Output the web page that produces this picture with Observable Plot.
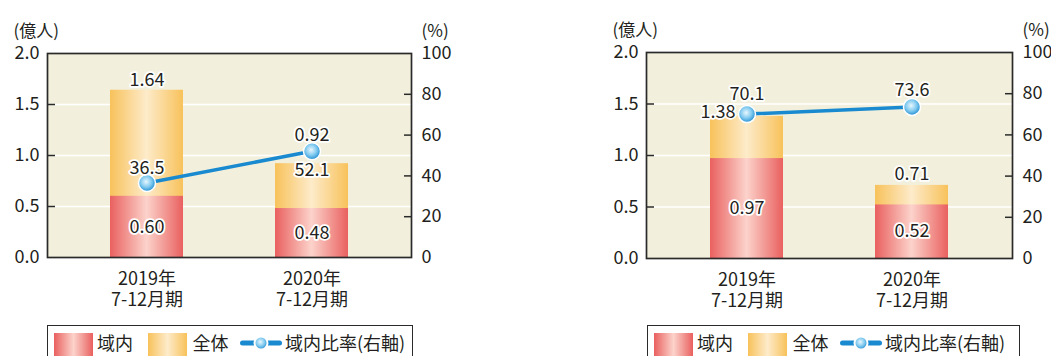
<!DOCTYPE html>
<html><head><meta charset="utf-8">
<script src="https://cdn.jsdelivr.net/npm/d3@7"></script>
<script src="https://cdn.jsdelivr.net/npm/@observablehq/plot@0.6"></script>
<style>
html,body{margin:0;padding:0;background:#fff}
body{width:1051px;height:356px;overflow:hidden;position:relative;font-family:"Noto Sans CJK JP","Noto Sans",sans-serif;color:#231f20}
.chart{position:absolute;top:0}
.legend{position:absolute;top:325px;height:44px;border:1.6px solid #2a2a2a;box-sizing:border-box;background:#fff}
.legend > *{position:absolute}
.sw{top:6.5px;width:39px;height:26px}
.lt{top:6.5px;font-size:18px;line-height:1;white-space:nowrap}
</style></head><body>
<svg width="0" height="0" style="position:absolute"><defs>
<linearGradient id="gRed" x1="0" x2="1" y1="0" y2="0"><stop offset="0" stop-color="#e9605f"/><stop offset="0.5" stop-color="#fcd3cb"/><stop offset="1" stop-color="#e9605f"/></linearGradient>
<linearGradient id="gOrg" x1="0" x2="1" y1="0" y2="0"><stop offset="0" stop-color="#f8c25b"/><stop offset="0.5" stop-color="#fdebca"/><stop offset="1" stop-color="#f8c25b"/></linearGradient>
<radialGradient id="gDot" cx="0.45" cy="0.42" r="0.6"><stop offset="0" stop-color="#e8f7fe"/><stop offset="0.55" stop-color="#7fc9ef"/><stop offset="1" stop-color="#1b8ad0"/></radialGradient>
</defs></svg>
<script>
// ---- data ----
const periods = ["2019年\n7-12月期", "2020年\n7-12月期"];
const leftTotal = [1.64, 0.92];
const leftDomestic = [0.60, 0.48];
const leftShare = [36.5, 52.1];
const rightTotal = [1.38, 0.71];
const rightDomestic = [0.97, 0.52];
const rightShare = [70.1, 73.6];
const yTicks = [0, 0.5, 1.0, 1.5, 2.0];
const pctTicks = [0, 20, 40, 60, 80, 100];
const leftAxisTitle = "(億人)";
const rightAxisTitle = "(%)";
const legendLabels = ["域内", "全体", "域内比率(右軸)"];

const FONT = '"Noto Sans CJK JP","Noto Sans",sans-serif';
const INK = "#231f20";
const BLUE = "#1a8ad0";

function chart(total, dom, share, o) {
  const data = periods.map((p, i) => ({p, i, total: total[i], dom: dom[i], share: share[i]}));
  const toY = v => v / 50; // right axis (%) mapped onto the left scale (0–2 ↔ 0–100)
  const halo = {fill: INK, stroke: "#fff", strokeWidth: 3.5, paintOrder: "stroke", fontSize: 18};
  const marks = [
    Plot.frame({fill: "#f2f0dc"}),
    Plot.gridY(yTicks.slice(1, -1), {stroke: "#fff", strokeOpacity: 1, strokeWidth: 1.6}),
    Plot.barY(data, {x: "p", y: "total", fill: "url(#gOrg)"}),
    Plot.barY(data, {x: "p", y: "dom", fill: "url(#gRed)"}),
    Plot.axisY(yTicks, {anchor: "left", tickSize: 0, tickPadding: 8, tickFormat: d => d.toFixed(1), label: null, fontSize: 18, fill: INK}),
    Plot.axisY(yTicks.slice(1, -1), {anchor: "left", tickSize: -8, fill: "none", label: null, stroke: "#2a2a2a", strokeWidth: 1.5}),
    Plot.axisY(pctTicks.map(toY), {anchor: "right", tickSize: 0, tickPadding: 10, tickFormat: d => String(Math.round(d * 50)), label: null, fontSize: 18, fill: INK}),
    Plot.axisY(pctTicks.slice(1, -1).map(toY), {anchor: "right", tickSize: -8, fill: "none", label: null, stroke: "#2a2a2a", strokeWidth: 1.5}),
    Plot.axisX({tickSize: 0, tickPadding: 12, label: null, fontSize: 18, lineHeight: 1.2, fill: INK}),
    Plot.text(data, {x: "p", y: d => d.dom / 2, text: d => d.dom.toFixed(2), ...halo}),
    Plot.line(data, {x: "p", y: d => toY(d.share), stroke: BLUE, strokeWidth: 3.5}),
    Plot.dot(data, {x: "p", y: d => toY(d.share), r: 8.5, fill: "url(#gDot)", stroke: "#fff", strokeWidth: 1.5}),
    ...data.map((d, i) => Plot.text([d], {x: "p", y: "total", text: d => d.total.toFixed(2), dx: o.totalDx[i], dy: o.totalDy[i], ...halo})),
    ...data.map((d, i) => Plot.text([d], {x: "p", y: d => toY(d.share), text: d => d.share.toFixed(1), dy: o.shareDy[i], ...halo})),
    Plot.frame({stroke: "#2a2a2a", strokeWidth: 1.7}),
    Plot.text([leftAxisTitle], {frameAnchor: "top-left", dx: -34, dy: -29, textAnchor: "start", fontSize: 17, fill: INK}),
    Plot.text([rightAxisTitle], {frameAnchor: "top-right", dx: 10, dy: -29, textAnchor: "start", fontSize: 17, fill: INK})
  ];
  const svg = Plot.plot({
    width: 452, height: 356,
    marginLeft: 47, marginRight: o.marginRight, marginTop: o.marginTop, marginBottom: o.marginBottom,
    style: {fontFamily: FONT, fontSize: "18px", color: INK, background: "transparent", overflow: "visible"},
    x: {domain: periods, paddingInner: 0.555, paddingOuter: 0.38},
    y: {domain: [0, 2]},
    marks
  });
  svg.classList.add("chart");
  svg.style.left = o.left + "px";
  svg.style.position = "absolute";
  document.body.appendChild(svg);
}

function legend(left, width) {
  const div = document.createElement("div");
  div.className = "legend";
  div.style.left = left + "px";
  div.style.width = width + "px";
  div.innerHTML =
    `<div class="sw" style="left:5.5px;background:linear-gradient(90deg,#e9605f,#fcd3cb,#e9605f)"></div>` +
    `<div class="lt" style="left:49px">${legendLabels[0]}</div>` +
    `<div class="sw" style="left:99.5px;background:linear-gradient(90deg,#f8c25b,#fdebca,#f8c25b)"></div>` +
    `<div class="lt" style="left:144.5px">${legendLabels[1]}</div>` +
    `<svg style="left:192px;top:8px" width="42" height="18"><line x1="2.5" x2="39.5" y1="9" y2="9" stroke="${BLUE}" stroke-width="5" stroke-linecap="round"/><circle cx="21" cy="9" r="6.5" fill="url(#gDot)" stroke="#fff" stroke-width="2"/></svg>` +
    `<div class="lt" style="left:237px">${legendLabels[2]}</div>`;
  document.body.appendChild(div);
}

chart(leftTotal, leftDomestic, leftShare, {left: 0, marginRight: 41, marginTop: 53, marginBottom: 99, totalDx: [0, 0], totalDy: [-10, -28], shareDy: [-15, 19]});
chart(rightTotal, rightDomestic, rightShare, {left: 599, marginRight: 39, marginTop: 52, marginBottom: 98, totalDx: [-29, 0], totalDy: [-4.5, -11], shareDy: [-20, -17]});
legend(47, 366);
legend(647, 373);
</script>
</body></html>
